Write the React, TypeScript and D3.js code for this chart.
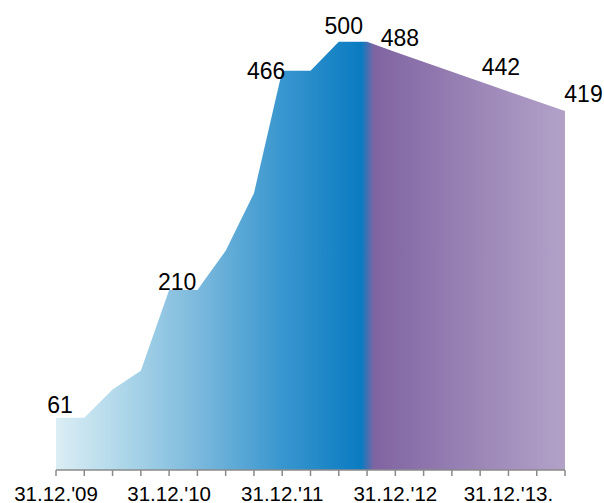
import React from "react";
import * as d3 from "d3";

const quarterIndex = [0, 1, 2, 3, 4, 5, 6, 7, 8, 9, 10, 11, 12, 16, 18];
const values = [61, 61, 94, 116, 210, 210, 256, 323, 466, 466, 500, 500, 488, 442, 419];

const tickCount = 18;
const axisLabelIndex = [0, 4, 8, 12, 16];
const axisLabels = ["31.12.'09", "31.12.'10", "31.12.'11", "31.12.'12", "31.12.'13."];

const valueLabelPoint = [0, 4, 8, 10, 12, 13, 14];
const valueLabelOffset: [number, number][] = [
  [4, -5],
  [8, 0],
  [-16, 8.5],
  [5, -7.5],
  [4.5, -6],
  [-7.5, -16],
  [18.5, -9.5],
];

const W = 604;
const H = 503;

export default function App() {
  const x = d3.scaleLinear().domain([0, tickCount]).range([56, 565]);
  const y = d3.scaleLinear().domain([0, 500]).range([470, 41.7]);

  const pts = quarterIndex.map((q, i) => ({ q, v: values[i] }));
  const area = d3
    .area<{ q: number; v: number }>()
    .x((d) => x(d.q))
    .y0(y(0))
    .y1((d) => y(d.v));

  const x0 = x(0);
  const x1 = x(tickCount);
  const off = (px: number) => (px - x0) / (x1 - x0);

  const stops = [
    { o: 0, c: "#dbeef5" },
    { o: off(130), c: "#a9d4e8" },
    { o: off(200), c: "#7ab8dc" },
    { o: off(280), c: "#3a97cf" },
    { o: off(x(10.8)), c: "#0a7bc1" },
    { o: off(x(11.25)), c: "#8064a2" },
    { o: 1, c: "#b2a2c8" },
  ];

  const ticks = d3.range(0, tickCount + 1);
  const font = "'Liberation Sans', Arial, sans-serif";

  return (
    <svg
      width={W}
      height={H}
      style={{ position: "absolute", left: 0, top: 0, background: "#fff" }}
    >
      <defs>
        <linearGradient id="g" gradientUnits="userSpaceOnUse" x1={x0} x2={x1} y1={0} y2={0}>
          {stops.map((s, i) => (
            <stop key={i} offset={s.o} stopColor={s.c} />
          ))}
        </linearGradient>
      </defs>
      <path d={area(pts) || ""} fill="url(#g)" />
      <line x1={x0} x2={x1} y1={y(0)} y2={y(0)} stroke="#8a8a8a" strokeWidth={1.5} />
      {ticks.map((t) => (
        <line key={t} x1={x(t)} x2={x(t)} y1={y(0)} y2={y(0) + 6} stroke="#8a8a8a" strokeWidth={1.5} />
      ))}
      {axisLabelIndex.map((t, i) => (
        <text
          key={t}
          x={x(t)}
          y={501}
          textAnchor="middle"
          fontFamily={font}
          fontSize={20.5}
          fill="#000"
        >
          {axisLabels[i]}
        </text>
      ))}
      {valueLabelPoint.map((p, i) => (
        <text
          key={p}
          x={x(pts[p].q) + valueLabelOffset[i][0]}
          y={y(pts[p].v) + valueLabelOffset[i][1]}
          textAnchor="middle"
          fontFamily={font}
          fontSize={23}
          fill="#000"
        >
          {pts[p].v}
        </text>
      ))}
    </svg>
  );
}
